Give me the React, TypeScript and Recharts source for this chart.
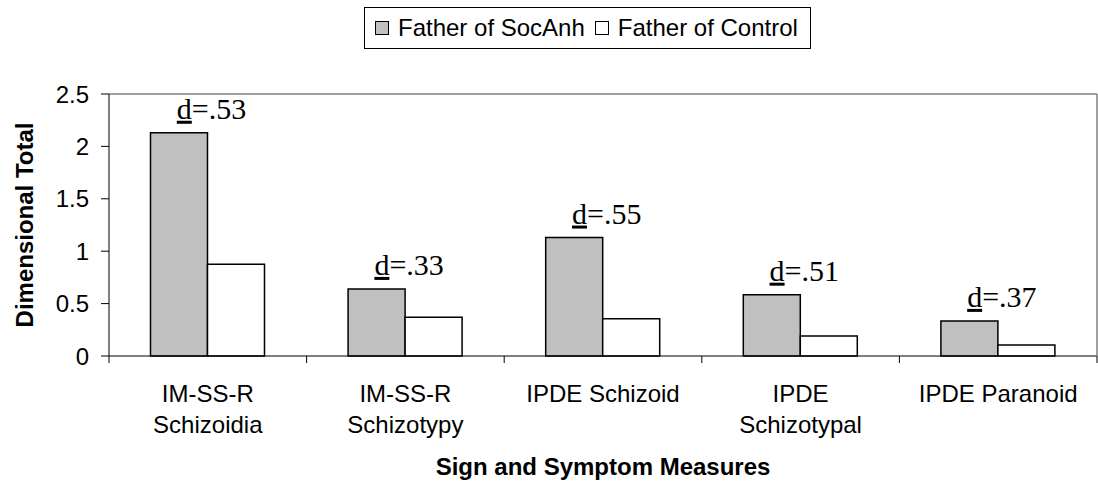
import React from 'react';
import { BarChart, Bar, XAxis, YAxis } from 'recharts';

const categories = ['IM-SS-R\nSchizoidia', 'IM-SS-R\nSchizotypy', 'IPDE Schizoid', 'IPDE\nSchizotypal', 'IPDE Paranoid'];
const fatherSocAnh = [2.13, 0.64, 1.13, 0.585, 0.335];
const fatherControl = [0.875, 0.37, 0.355, 0.19, 0.105];
const effectSizes = ['.53', '.33', '.55', '.51', '.37'];
const yTicks = [0, 0.5, 1, 1.5, 2, 2.5];
const seriesNames = ['Father of SocAnh', 'Father of Control'];
const seriesColors = ['#C0C0C0', '#FFFFFF'];

const data = categories.map((c, i) => ({
  name: c,
  socanh: fatherSocAnh[i],
  control: fatherControl[i],
  d: effectSizes[i],
}));

const SANS = 'Arial, "Liberation Sans", sans-serif';
const SERIF = '"Times New Roman", "Liberation Serif", serif';

const XTick = (props: any) => {
  const { x, y, payload, index } = props;
  const half = payload && payload.offset ? payload.offset : 98.8;
  const lines = String(payload.value).split('\n');
  const isLast = index === categories.length - 1;
  return (
    <g>
      <line x1={x - half} x2={x - half} y1={y} y2={y + 7} stroke="#000" strokeWidth={1} />
      {isLast && <line x1={x + half} x2={x + half} y1={y} y2={y + 7} stroke="#000" strokeWidth={1} />}
      {lines.map((l, i) => (
        <text key={i} x={x} y={y + 46 + i * 31} textAnchor="middle" fontFamily={SANS} fontSize={24} fill="#000">
          {l}
        </text>
      ))}
    </g>
  );
};

const DLabel = (props: any) => {
  const { x, y, width, index } = props;
  return (
    <text x={x + width + 4} y={y - 14} textAnchor="middle" fontFamily={SERIF} fontSize={30} fill="#000">
      <tspan textDecoration="underline">d</tspan>={effectSizes[index]}
    </text>
  );
};

const Swatch = ({ color }: { color: string }) => (
  <span
    style={{
      display: 'inline-block',
      width: 14,
      height: 14,
      background: color,
      border: '1.5px solid #000',
      marginRight: 9,
      boxSizing: 'border-box',
    }}
  />
);

const LegendBox = () => (
  <div
    style={{
      position: 'absolute',
      left: 364,
      top: 7,
      display: 'inline-flex',
      alignItems: 'center',
      border: '1px solid #000',
      background: '#fff',
      padding: '5px 12px 5px 10px',
      fontFamily: SANS,
      fontSize: 24,
      lineHeight: '30px',
      color: '#000',
      whiteSpace: 'nowrap',
      zIndex: 2,
    }}
  >
    <Swatch color={seriesColors[0]} />
    <span style={{ marginRight: 10 }}>{seriesNames[0]}</span>
    <Swatch color={seriesColors[1]} />
    <span>{seriesNames[1]}</span>
  </div>
);

export default function App() {
  return (
    <div style={{ position: 'absolute', left: 0, top: 0, width: 1098, height: 481, background: '#fff' }}>
      <LegendBox />
      <BarChart
        width={1098}
        height={481}
        data={data}
        margin={{ top: 93, right: 0, left: 0, bottom: 0 }}
        barCategoryGap="21%"
        barGap={0}
      >
        <XAxis
          dataKey="name"
          height={125}
          axisLine={{ stroke: '#000', strokeWidth: 1 }}
          tickLine={false}
          tickSize={0}
          tickMargin={0}
          tick={<XTick />}
          interval={0}
          label={(p: any) => {
            const vb = p.viewBox || {};
            return (
              <text x={vb.x + vb.width / 2} y={vb.y + 119} textAnchor="middle" fontFamily={SANS} fontSize={24} fontWeight="bold" fill="#000">
                Sign and Symptom Measures
              </text>
            );
          }}
        />
        <XAxis xAxisId="top" orientation="top" dataKey="name" height={1} tick={false} tickLine={false} axisLine={{ stroke: '#808080', strokeWidth: 1.5 }} />
        <YAxis
          width={109}
          domain={[0, 2.5]}
          ticks={yTicks}
          interval={0}
          axisLine={{ stroke: '#000', strokeWidth: 1 }}
          tickLine={{ stroke: '#000' }}
          tickSize={8}
          tickMargin={12}
          tick={{ fontFamily: SANS, fontSize: 24, fill: '#000' }}
          label={(p: any) => {
            const vb = p.viewBox || {};
            const cx = vb.x + 24;
            const cy = vb.y + vb.height / 2;
            return (
              <text x={cx} y={cy} transform={`rotate(-90 ${cx} ${cy})`} textAnchor="middle" dominantBaseline="central" fontFamily={SANS} fontSize={24} fontWeight="bold" fill="#000">
                Dimensional Total
              </text>
            );
          }}
        />
        <YAxis yAxisId="right" orientation="right" width={1} domain={[0, 2.5]} tick={false} tickLine={false} axisLine={{ stroke: '#808080', strokeWidth: 1.5 }} />
        <Bar dataKey="socanh" name={seriesNames[0]} fill={seriesColors[0]} stroke="#000" strokeWidth={1.5} isAnimationActive={false} label={<DLabel />} />
        <Bar dataKey="control" name={seriesNames[1]} fill={seriesColors[1]} stroke="#000" strokeWidth={1.5} isAnimationActive={false} />
      </BarChart>
    </div>
  );
}
